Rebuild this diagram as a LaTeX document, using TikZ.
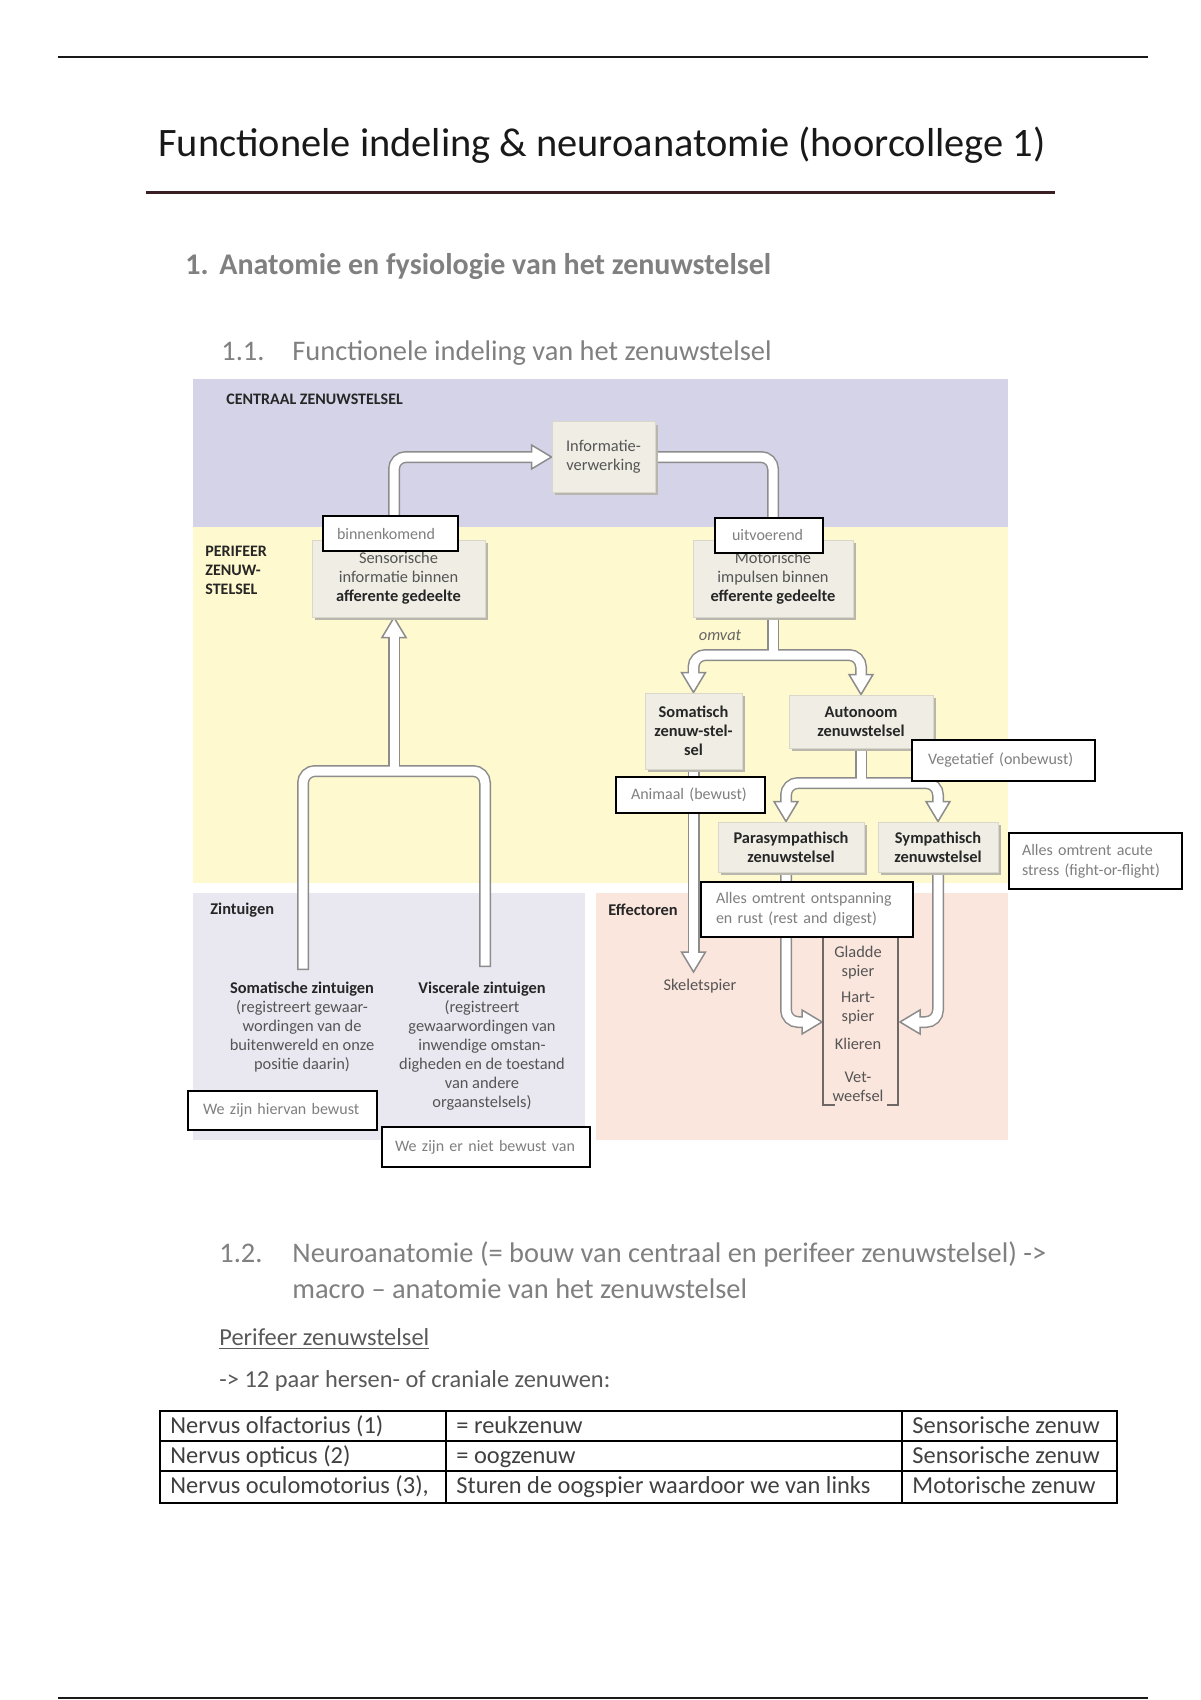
\documentclass[tikz,border=0pt]{standalone}
\usepackage{fontspec}
\setmainfont{Carlito}
\usetikzlibrary{shadows}
\definecolor{purpband}{HTML}{D5D3E7}
\definecolor{yelband}{HTML}{FEF9CE}
\definecolor{zinpanel}{HTML}{E9E8F1}
\definecolor{effpanel}{HTML}{FBE6DD}
\definecolor{boxfill}{HTML}{EFEDE4}
\definecolor{boxedge}{HTML}{D9D6CB}
\definecolor{shadowc}{HTML}{B9B6AE}
\definecolor{arrgray}{HTML}{8C8C8C}
\definecolor{headgray}{HTML}{808080}
\definecolor{notegray}{HTML}{7F7F7F}
\definecolor{darktext}{HTML}{404040}
\definecolor{midtext}{HTML}{595959}
\definecolor{figtext}{HTML}{555555}
\definecolor{figbold}{HTML}{262626}
\definecolor{maroonline}{HTML}{3B1E24}
\definecolor{brack}{HTML}{6E6966}
\pgfdeclarelayer{bgl}
\pgfdeclarelayer{arra}
\pgfdeclarelayer{arrb}
\pgfdeclarelayer{arrc}
\pgfdeclarelayer{fgl}
\pgfsetlayers{bgl,arra,arrb,arrc,main,fgl}
\newcommand\figfont{\fontsize{8.2}{9.5}\selectfont}
\newcommand\notefont{\fontsize{8}{10}\selectfont}
\newcommand\hollowarrow[2]{%
 \begin{pgfonlayer}{arra}\draw[shout] #1;\end{pgfonlayer}%
 \begin{pgfonlayer}{arrc}\draw[shin,#2] #1;\end{pgfonlayer}}
\newcommand\arrowhead[2]{%
 \begin{pgfonlayer}{arrb}\pic[rotate=#1] at #2 {ahead};\end{pgfonlayer}}
\tikzset{
 shout/.style={draw=arrgray, line width=6pt, rounded corners=6pt},
 shin/.style={draw=white, line width=4.5pt, rounded corners=6pt},
 ahead/.pic={\filldraw[fill=white, draw=arrgray, line width=0.75pt, line join=miter] (0,0) -- (-12,-20) -- (12,-20) -- cycle;},
 figbox/.style={draw=boxedge, fill=boxfill, line width=0.5pt, inner sep=1pt, align=center,
   text=figtext, font=\figfont,
   drop shadow={shadow xshift=1.3pt, shadow yshift=-1.3pt, fill=shadowc, opacity=1}},
 boldbox/.style={figbox, text=figbold, font=\figfont\bfseries},
 note/.style={draw=black, line width=1pt, fill=white, align=left, text=notegray, font=\notefont,
   inner ysep=0pt},
 panellabel/.style={anchor=west, font=\fontsize{8.2}{9}\selectfont\bfseries, text=figbold, inner sep=0pt},
 headtext/.style={anchor=base west, inner sep=0pt, text=headgray, font=\fontsize{14.2}{17}\selectfont},
 bodytext/.style={anchor=base west, inner sep=0pt, text=midtext, font=\fontsize{12.2}{14}\selectfont},
 celltext/.style={anchor=base west, inner sep=0pt, text=darktext, font=\fontsize{12.2}{14}\selectfont},
 figlabel/.style={inner sep=0pt, align=center, text=figtext, font=\figfont},
}
\begin{document}
\begin{tikzpicture}[x=0.5pt,y=-0.5pt]
\useasboundingbox (0,0) rectangle (1200,1700);
\begin{pgfonlayer}{bgl}
\fill[white] (0,0) rectangle (1200,1700);
\end{pgfonlayer}

% page rules and headings
\draw[line width=1pt, black!90] (58,57) -- (1148,57);
\draw[line width=1pt, black!90] (58,1698) -- (1148,1698);
\node[anchor=base west, inner sep=0pt, text=black!90, font=\fontsize{20.2}{24}\selectfont] (title) at (158,157)
  {Functionele indeling \& neuroanatomie (hoorcollege 1)};
\draw[line width=1.5pt, maroonline] (146,193) -- (1055,193);
\node[headtext, font=\fontsize{15}{18}\selectfont\bfseries] (h1num) at (185,275) {1.};
\node[headtext, font=\fontsize{15}{18}\selectfont\bfseries] (h1) at (219,275) {Anatomie en fysiologie van het zenuwstelsel};
\node[headtext] (h11num) at (221,361) {1.1.};
\node[headtext] (h11) at (292,361) {Functionele indeling van het zenuwstelsel};

% diagram backgrounds
\begin{pgfonlayer}{bgl}
\fill[purpband] (193,379) rectangle (1008,527);
\fill[yelband] (193,527) rectangle (1008,883);
\fill[zinpanel] (193,893) rectangle (585,1140);
\fill[effpanel] (596,893) rectangle (1008,1140);
\end{pgfonlayer}

\node[panellabel, font=\fontsize{8}{9}\selectfont\bfseries] (czs) at (226,399) {CENTRAAL ZENUWSTELSEL};
\node[panellabel, align=left, font=\fontsize{8}{9.5}\selectfont\bfseries] (pzs) at (205,570) {PERIFEER\\ZENUW-\\STELSEL};
\node[panellabel] (zint) at (210,910) {Zintuigen};
\node[panellabel] (effl) at (608,910) {Effectoren};

% boxes
\node[figbox, minimum width=51.5pt, minimum height=35pt] (info) at (603.5,457) {Informatie-\\verwerking};
\node[figbox, minimum width=86.5pt, minimum height=38.5pt] (sens) at (398.5,578.5)
  {Sensorische\\informatie binnen\\{\bfseries\color{figbold}afferente gedeelte}};
\node[figbox, minimum width=80pt, minimum height=38.5pt] (mot) at (773,578.5)
  {Motorische\\impulsen binnen\\{\bfseries\color{figbold}efferente gedeelte}};
\node[boldbox, minimum width=48.5pt, minimum height=38pt] (som) at (693.5,731) {Somatisch\\zenuw-stel-\\sel};
\node[boldbox, minimum width=72pt, minimum height=26.5pt] (aut) at (861,721.5) {Autonoom\\zenuwstelsel};
\node[boldbox, minimum width=73pt, minimum height=25pt] (para) at (791,847) {Parasympathisch\\zenuwstelsel};
\node[boldbox, minimum width=60pt, minimum height=25pt] (symp) at (938,847) {Sympathisch\\zenuwstelsel};

\node[figlabel, font=\figfont\itshape, text=black!60] (omvat) at (720,635) {omvat};

% coordinates
\coordinate (split1) at (773,655);
\coordinate (split2) at (861,783);
\coordinate (skeltip) at (693.5,972);
\coordinate (ptip) at (822,1022);
\coordinate (stip) at (900,1022);
\coordinate (somzt) at (303,970);
\coordinate (viszt) at (485,967);
\coordinate (ysplit) at (394,771);
\coordinate (sensin) at ([xshift=-2.25pt]sens.south);
\coordinate (sensout) at ([xshift=-2.25pt]sens.north);
\coordinate (parain) at ([xshift=-2.5pt]para.north);
\coordinate (paraout) at ([xshift=-2.5pt]para.south);

% hollow arrows
\hollowarrow{(sensout) |- ([xshift=-10pt]info.west)}{shorten >=-1.5pt}
\arrowhead{90}{(info.west)}
\hollowarrow{(info.east) -| (mot.north)}{}
\hollowarrow{(mot.south) -- (split1)}{}
\hollowarrow{([yshift=10pt]som.north) |- (split1) -| ([yshift=10pt]aut.north)}{shorten <=-1.5pt, shorten >=-1.5pt}
\arrowhead{0}{(som.north)}
\arrowhead{0}{(aut.north)}
\hollowarrow{(aut.south) -- (split2)}{}
\hollowarrow{([yshift=10pt]parain) |- (split2) -| ([yshift=10pt]symp.north)}{shorten <=-1.5pt, shorten >=-1.5pt}
\arrowhead{0}{(parain)}
\arrowhead{0}{(symp.north)}
\hollowarrow{(som.south) -- ([yshift=10pt]skeltip)}{shorten >=-1.5pt}
\arrowhead{0}{(skeltip)}
\hollowarrow{(paraout) |- ([xshift=-10pt]ptip)}{shorten >=-1.5pt}
\arrowhead{90}{(ptip)}
\hollowarrow{(symp.south) |- ([xshift=10pt]stip)}{shorten >=-1.5pt}
\arrowhead{-90}{(stip)}
\hollowarrow{(somzt) |- (ysplit) -| (viszt)}{shorten <=0.75pt, shorten >=0.75pt}
\hollowarrow{(ysplit) -- ([yshift=-10pt]sensin)}{shorten >=-1.5pt}
\arrowhead{180}{(sensin)}

% effector bracket and labels
\draw[brack, line width=0.6pt] (823,930) -- (823,1105) -- (835,1105);
\draw[brack, line width=0.6pt] (887,1105) -- (898,1105) -- (898,930);
\node[figlabel] (skel) at (700,986) {Skeletspier};
\node[figlabel] (glad) at (858,963) {Gladde\\spier};
\node[figlabel] (hart) at (858,1008.5) {Hart-\\spier};
\node[figlabel] (klier) at (858,1044) {Klieren};
\node[figlabel] (vet) at (858,1086.5) {Vet-\\weefsel};

% sense organs
\node[figlabel] (somz) at (302,1027) {{\bfseries\color{figbold}Somatische zintuigen}\\(registreert gewaar-\\wordingen van de\\buitenwereld en onze\\positie daarin)};
\node[figlabel] (visz) at (482,1046) {{\bfseries\color{figbold}Viscerale zintuigen}\\(registreert\\gewaarwordingen van\\inwendige omstan-\\digheden en de toestand\\van andere\\orgaanstelsels)};

% annotation boxes
\begin{pgfonlayer}{fgl}
\node[note, inner xsep=7pt, text width=53.5pt, minimum height=17.5pt] (binnen) at (390.5,533.5) {binnenkomend};
\node[note, inner xsep=8.5pt, text width=37pt, minimum height=17.5pt] (uit) at (769,535.5) {uitvoerend};
\node[note, inner xsep=8pt, text width=75.5pt, minimum height=20.5pt] (veg) at (1003.5,760.5) {Vegetatief (onbewust)};
\node[note, inner xsep=7.5pt, text width=59.5pt, minimum height=18pt] (anim) at (690.5,795) {Animaal (bewust)};
\node[note, inner xsep=6.5pt, text width=73.5pt, minimum height=28pt] (stress) at (1095.5,861) {Alles omtrent acute\\stress (fight-or-flight)};
\node[note, inner xsep=7.5pt, text width=91pt, minimum height=27.5pt] (ontsp) at (807,909.5) {Alles omtrent ontspanning\\en rust (rest and digest)};
\node[note, inner xsep=7.5pt, text width=79.5pt, minimum height=19.5pt] (bew) at (282.5,1110.5) {We zijn hiervan bewust};
\node[note, inner xsep=6.5pt, text width=91pt, minimum height=20pt] (nbew) at (486,1147) {We zijn er niet bewust van};
\end{pgfonlayer}

% section 1.2
\node[headtext] (h12num) at (219,1262) {1.2.};
\node[headtext] (h12a) at (292,1262) {Neuroanatomie (= bouw van centraal en perifeer zenuwstelsel) ->};
\node[headtext] (h12b) at (292,1298) {macro – anatomie van het zenuwstelsel};
\node[bodytext] (pzsub) at (219,1345) {\underline{Perifeer zenuwstelsel}};
\node[bodytext] (paar) at (219,1387) {-> 12 paar hersen- of craniale zenuwen:};

% table
\draw[line width=0.9pt] (160,1411) rectangle (1117,1503);
\draw[line width=0.9pt] (160,1441) -- (1117,1441);
\draw[line width=0.9pt] (160,1471) -- (1117,1471);
\draw[line width=0.9pt] (446,1411) -- (446,1503);
\draw[line width=0.9pt] (902,1411) -- (902,1503);
\node[celltext] (c11) at (170,1433) {Nervus olfactorius (1)};
\node[celltext] (c12) at (456,1433) {= reukzenuw};
\node[celltext] (c13) at (912,1433) {Sensorische zenuw};
\node[celltext] (c21) at (170,1463) {Nervus opticus (2)};
\node[celltext] (c22) at (456,1463) {= oogzenuw};
\node[celltext] (c23) at (912,1463) {Sensorische zenuw};
\node[celltext] (c31) at (170,1493) {Nervus oculomotorius (3),};
\node[celltext] (c32) at (456,1493) {Sturen de oogspier waardoor we van links};
\node[celltext] (c33) at (912,1493) {Motorische zenuw};
\end{tikzpicture}
\end{document}
